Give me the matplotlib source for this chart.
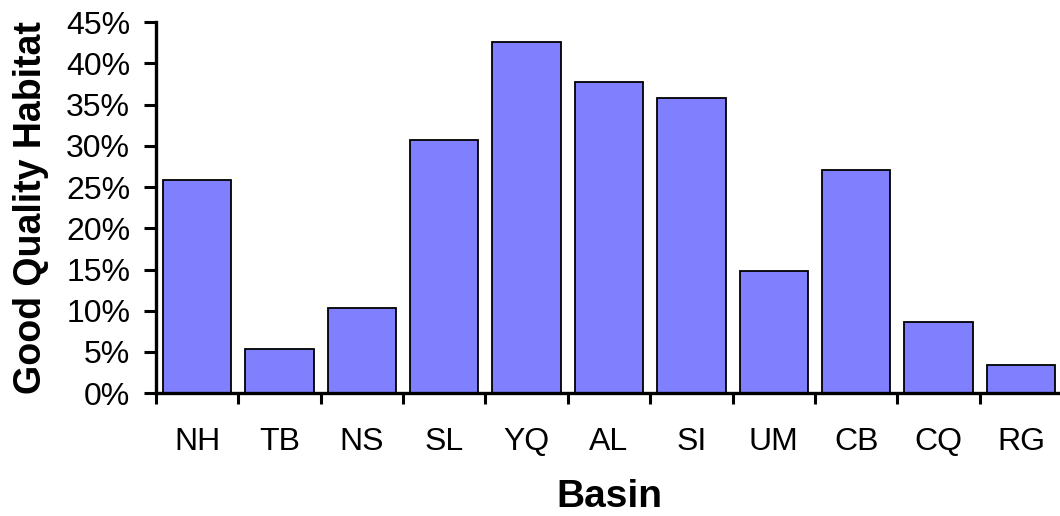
import matplotlib
matplotlib.use("Agg")
import matplotlib.pyplot as plt
from matplotlib.ticker import FixedLocator, PercentFormatter

basins = ["NH", "TB", "NS", "SL", "YQ", "AL", "SI", "UM", "CB", "CQ", "RG"]
habitat = [25.8, 5.3, 10.3, 30.7, 42.6, 37.7, 35.8, 14.8, 27.1, 8.6, 3.4]
yticks = [0, 5, 10, 15, 20, 25, 30, 35, 40, 45]

plt.rcParams["font.family"] = ["Liberation Sans", "DejaVu Sans"]

fig = plt.figure(figsize=(10.6, 5.16), dpi=100)
ax = fig.add_axes([0.147, 0.238, 0.855, 0.719])

x = list(range(len(basins)))
ax.bar(x, habitat, width=0.83, color="#8080ff", edgecolor="black", linewidth=1.3)

ax.set_xlim(-0.5, len(basins) - 0.5)
ax.set_ylim(0, 45)
ax.set_yticks(yticks)
ax.yaxis.set_major_formatter(PercentFormatter(decimals=0))
ax.set_xticks(x)
ax.set_xticklabels(basins)
ax.xaxis.set_minor_locator(FixedLocator([i - 0.5 for i in range(len(basins) + 1)]))

ax.tick_params(axis="y", direction="out", length=8.5, width=2.2, labelsize=23, pad=10)
ax.tick_params(axis="x", which="major", length=0, labelsize=23, pad=24)
ax.tick_params(axis="x", which="minor", direction="out", length=8, width=2.2)

for side in ["top", "right"]:
    ax.spines[side].set_visible(False)
for side in ["left", "bottom"]:
    ax.spines[side].set_linewidth(2.4)

ax.set_xlabel("Basin", fontsize=28, fontweight="bold", labelpad=16)
ax.set_ylabel("Good Quality Habitat", fontsize=27, fontweight="bold", labelpad=12)

fig.savefig("out.png", dpi=100)
